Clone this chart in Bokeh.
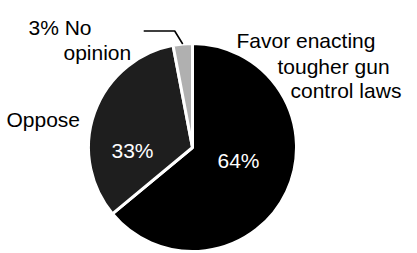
import math
from bokeh.plotting import figure
from bokeh.models import Range1d, ColumnDataSource
from bokeh.core.properties import value
from bokeh.embed import file_html
from bokeh.resources import INLINE

# Data
categories = ["Favor enacting tougher gun control laws", "Oppose", "No opinion"]
percents = [64, 33, 3]
colors = ["#000000", "#1e1e1e", "#b0b0b0"]

W, H = 417, 253
p = figure(width=W, height=H, output_backend="svg", toolbar_location=None,
           x_range=Range1d(0, W), y_range=Range1d(0, H),
           x_axis_type=None, y_axis_type=None, min_border=0,
           outline_line_color=None)
p.grid.visible = False
p.background_fill_color = "white"
p.border_fill_color = "white"

cx, cy, r = 192, 106, 104
total = sum(percents)
starts, ends = [], []
a = math.pi / 2
for v in percents:
    starts.append(a)
    a -= 2 * math.pi * v / total
    ends.append(a)

src = ColumnDataSource(dict(cat=categories, pct=percents, color=colors,
                            start=starts, end=ends))
p.wedge(x=cx, y=cy, radius=r, start_angle="start", end_angle="end",
        direction="clock", fill_color="color", line_color="white",
        line_width=3, source=src)

# leader line for "No opinion"
m = (starts[2] + ends[2]) / 2
px_, py_ = cx + r * math.cos(m), cy + r * math.sin(m)
ex, ey = px_ - 8, py_ + 13
p.line(x=[ex - 31, ex, px_], y=[ey, ey, py_], line_color="black", line_width=1.6)

font = value("Liberation Sans")
outside = dict(text_font=font, text_font_size="21px", text_color="black",
               text_align="left", text_baseline="alphabetic")
p.text(x=[28], y=[226], text=[f"{percents[2]}% No"], **outside)
p.text(x=[63], y=[201], text=["opinion"], **outside)
p.text(x=[6], y=[134], text=["Oppose"], **outside)
p.text(x=[236], y=[213], text=["Favor enacting"], **outside)
p.text(x=[277], y=[187], text=["tougher gun"], **outside)
p.text(x=[290], y=[163], text=["control laws"], **outside)

inside = dict(text_font=font, text_font_size="21px", text_color="white",
              text_align="left", text_baseline="alphabetic")
p.text(x=[111], y=[103], text=[f"{percents[1]}%"], **inside)
p.text(x=[217], y=[93], text=[f"{percents[0]}%"], **inside)

open("out.html", "w").write(file_html(p, INLINE))
